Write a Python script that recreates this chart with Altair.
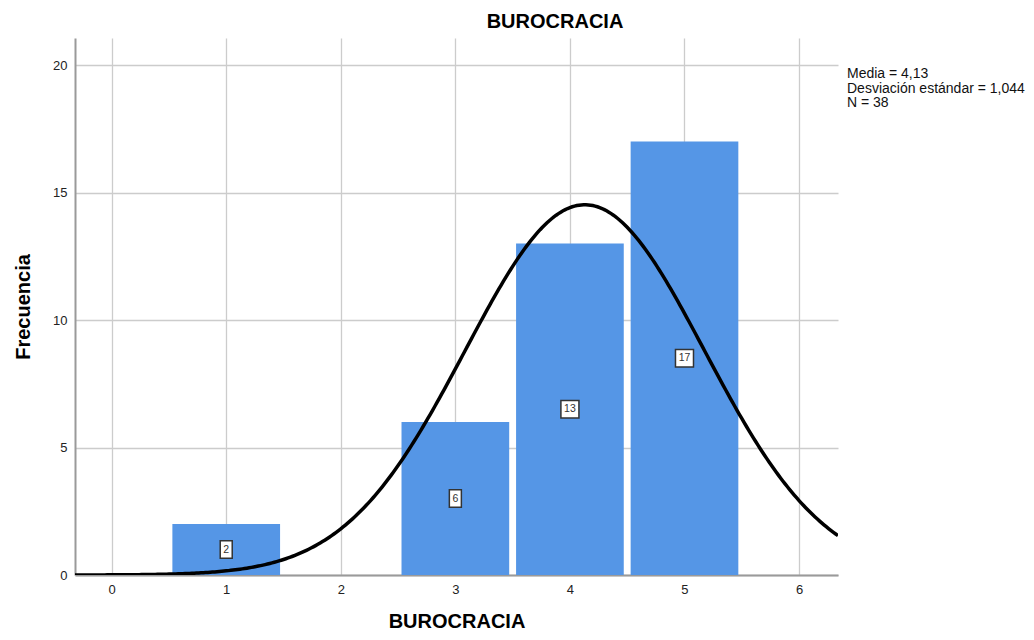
import altair as alt
import pandas as pd

# ---- data ----
valores = [1, 2, 3, 4, 5]
frecuencias = [2, 0, 6, 13, 17]
x_ticks = [0, 1, 2, 3, 4, 5, 6]
y_ticks = [0, 5, 10, 15, 20]
media = 4.13
desviacion = 1.044
n_total = 38
titulo = "BUROCRACIA"
eje_y = "Frecuencia"
leyenda = [
    "Media = 4,13",
    "Desviación estándar = 1,044",
    "N = 38",
]

FONT = "Liberation Sans"
X_DOMAIN = [-0.32, 6.34]
Y_DOMAIN = [0, 21.06]

df = pd.DataFrame({"valor": valores, "frecuencia": frecuencias})
df = df[df["frecuencia"] > 0]

xscale = alt.Scale(domain=X_DOMAIN, nice=False, zero=False)
yscale = alt.Scale(domain=Y_DOMAIN, nice=False, zero=False)

base = alt.Chart(df).transform_calculate(
    x0="datum.valor - 0.47",
    x1="datum.valor + 0.47",
    y0="0",
    mid="datum.frecuencia / 2",
    nd="length(toString(datum.frecuencia))",
)

bars = base.mark_rect(color="#5596e6").encode(
    x=alt.X(
        "x0:Q",
        scale=xscale,
        axis=alt.Axis(
            values=x_ticks,
            format="d",
            title=titulo,
            grid=True,
            ticks=False,
            labelPadding=8,
            titlePadding=15,
        ),
    ),
    x2="x1:Q",
    y=alt.Y(
        "frecuencia:Q",
        scale=yscale,
        axis=alt.Axis(
            values=y_ticks,
            format="d",
            title=eje_y,
            grid=True,
            ticks=False,
            labelPadding=8,
            titlePadding=19,
        ),
    ),
    y2="y0:Q",
)

curva = (
    alt.Chart(alt.sequence(X_DOMAIN[0], X_DOMAIN[1] + 0.001, 0.02, as_="x"))
    .transform_calculate(
        y=f"{n_total} * exp(-0.5 * pow((datum.x - {media}) / {desviacion}, 2)) / ({desviacion} * sqrt(2 * PI))"
    )
    .mark_line(color="black", strokeWidth=3.5, clip=True)
    .encode(x=alt.X("x:Q", scale=xscale), y=alt.Y("y:Q", scale=yscale))
)

cajas = base.transform_calculate(
    bx0="datum.valor - (3 + 3 * datum.nd) / 114.5",
    bx1="datum.valor + (3 + 3 * datum.nd) / 114.5",
    by0="datum.mid - 0.34",
    by1="datum.mid + 0.34",
).mark_rect(fill="white", stroke="#333333", strokeWidth=1.5).encode(
    x=alt.X("bx0:Q", scale=xscale),
    x2="bx1:Q",
    y=alt.Y("by0:Q", scale=yscale),
    y2="by1:Q",
)

etiquetas = base.mark_text(
    font=FONT, fontSize=10.5, color="#333333", baseline="middle", align="center"
).encode(
    x=alt.X("valor:Q", scale=xscale),
    y=alt.Y("mid:Q", scale=yscale),
    text="frecuencia:Q",
)

texto_leyenda = (
    alt.Chart(pd.DataFrame({"t": ["\n".join(leyenda)]}))
    .mark_text(
        font=FONT,
        fontSize=14,
        lineHeight=14.5,
        lineBreak="\n",
        align="left",
        baseline="alphabetic",
        color="#111111",
    )
    .encode(x=alt.value(772), y=alt.value(40), text="t:N")
)

texto_titulo = (
    alt.Chart(pd.DataFrame({"t": [titulo]}))
    .mark_text(
        font=FONT,
        fontSize=20,
        fontWeight="bold",
        align="center",
        baseline="alphabetic",
        color="black",
    )
    .encode(x=alt.value(480), y=alt.value(-10), text="t:N")
)

chart = (
    alt.layer(bars, curva, cajas, etiquetas, texto_leyenda, texto_titulo)
    .properties(
        width=763,
        height=537,
        autosize=alt.AutoSizeParams(type="none"),
        padding={"left": 67, "top": 30, "right": 188, "bottom": 57},
    )
    .configure_view(stroke=None)
    .configure_axis(
        labelFont=FONT,
        labelFontSize=13,
        labelColor="#222222",
        titleFont=FONT,
        titleFontSize=20,
        titleFontWeight="bold",
        titleColor="black",
        domainColor="#9a9a9a",
        domainWidth=2,
        gridColor="#cccccc",
        gridWidth=1.3,
    )
)

chart.save("out.html", embed_options={"renderer": "svg", "actions": False})
